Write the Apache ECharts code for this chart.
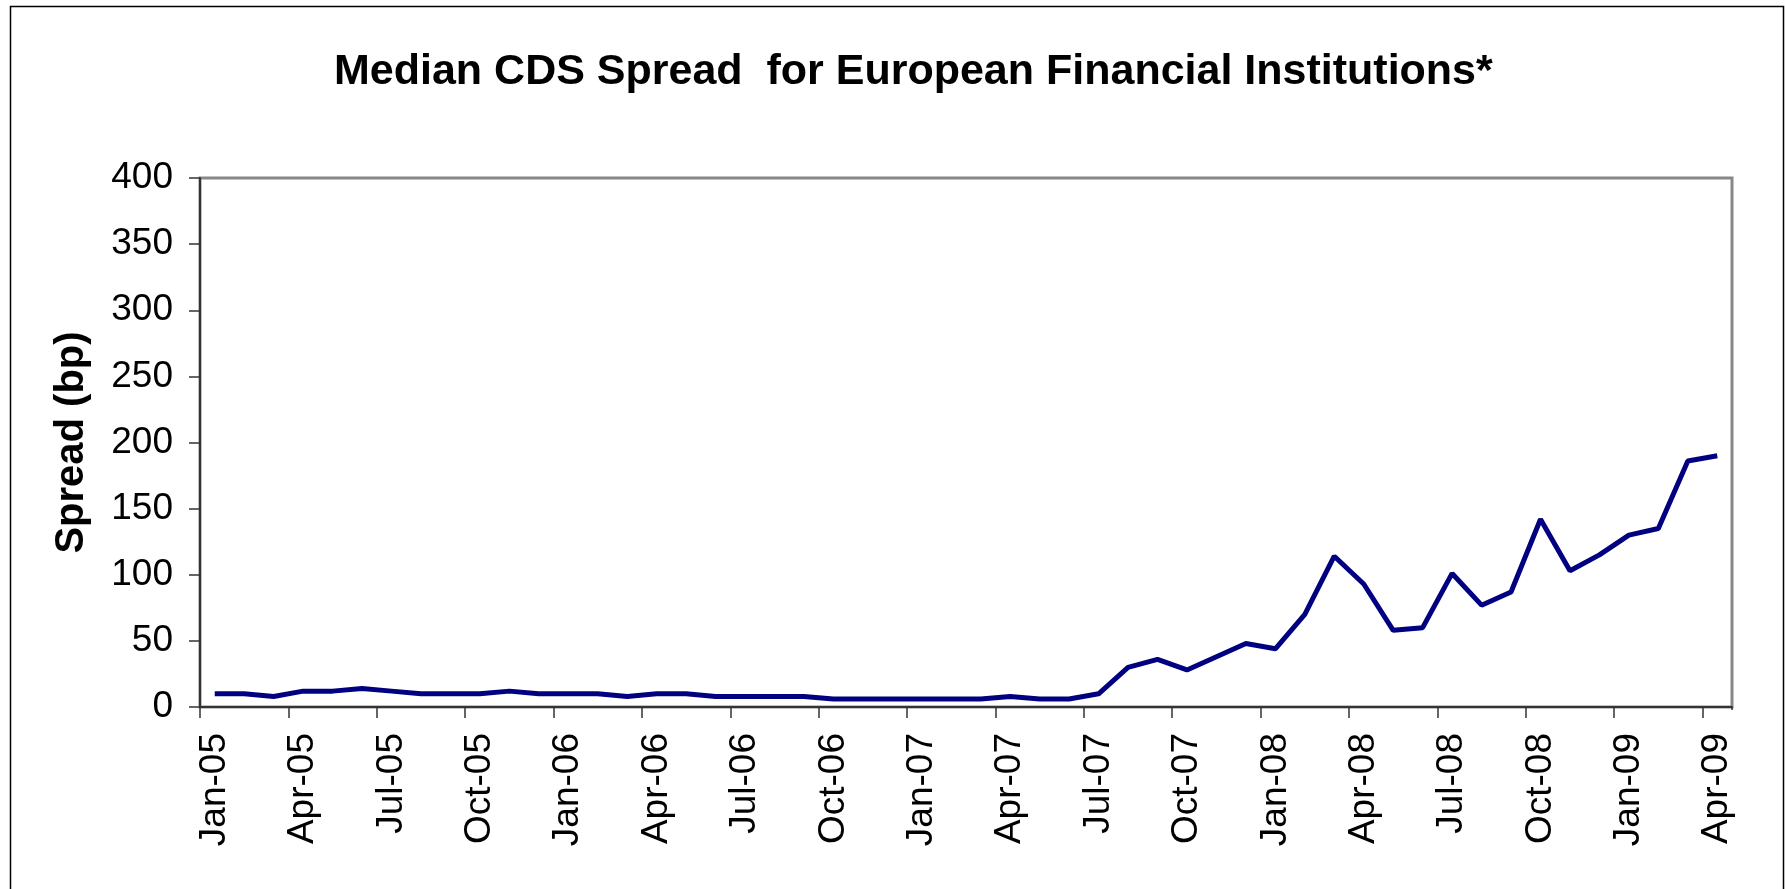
<!DOCTYPE html>
<html>
<head>
<meta charset="utf-8">
<script src="https://cdn.jsdelivr.net/npm/echarts@6/dist/echarts.min.js"></script>
<style>
html,body{margin:0;padding:0;background:#fff;}
#chart{width:1785px;height:889px;}
</style>
</head>
<body>
<div id="chart"></div>
<script>
var titleText = 'Median CDS Spread  for European Financial Institutions*';
var yAxisTitle = 'Spread (bp)';
var categories = [
  'Jan-05','Feb-05','Mar-05','Apr-05','May-05','Jun-05','Jul-05','Aug-05','Sep-05','Oct-05','Nov-05','Dec-05',
  'Jan-06','Feb-06','Mar-06','Apr-06','May-06','Jun-06','Jul-06','Aug-06','Sep-06','Oct-06','Nov-06','Dec-06',
  'Jan-07','Feb-07','Mar-07','Apr-07','May-07','Jun-07','Jul-07','Aug-07','Sep-07','Oct-07','Nov-07','Dec-07',
  'Jan-08','Feb-08','Mar-08','Apr-08','May-08','Jun-08','Jul-08','Aug-08','Sep-08','Oct-08','Nov-08','Dec-08',
  'Jan-09','Feb-09','Mar-09','Apr-09'
];
var spread = [
  10,10,8,12,12,14,12,10,10,10,12,10,
  10,10,8,10,10,8,8,8,8,6,6,6,
  6,6,6,8,6,6,10,30,36,28,38,48,
  44,70,114,93,58,60,101,77,87,142,103,115,
  130,135,186,190
];
var yMin = 0, yMax = 400, yStep = 50;

var chart = echarts.init(document.getElementById('chart'), null, {renderer:'canvas'});
var font = '"Liberation Sans", Arial, sans-serif';
chart.setOption({
  animation: false,
  backgroundColor: '#ffffff',
  title: {
    text: titleText,
    left: 329,
    top: 46,
    textStyle: {fontFamily: font, fontSize: 43, fontWeight: 'bold', color: '#000'}
  },
  graphic: [{
    type: 'rect',
    shape: {x: 10.5, y: 6.5, width: 1773, height: 900},
    style: {fill: 'none', stroke: '#000', lineWidth: 1.5},
    silent: true,
    z: -10
  }, {
    type: 'rect',
    shape: {x: 1727, y: 710, width: 18, height: 16},
    style: {fill: '#ffffff'},
    silent: true,
    zlevel: 5,
    z: 1000
  }],
  grid: {
    left: 200, right: 53, top: 178, bottom: 182,
    show: true, borderColor: '#888', borderWidth: 3, backgroundColor: '#fff'
  },
  xAxis: {
    type: 'category',
    data: categories,
    boundaryGap: true,
    axisLine: {show: true, lineStyle: {color: '#333', width: 2}},
    axisTick: {show: true, interval: 2, length: 11, inside: false, lineStyle: {color: '#333', width: 1.5}},
    axisLabel: {interval: 2, rotate: 90, margin: 26, fontFamily: font, fontSize: 37, color: '#000'},
    splitLine: {show: false}
  },
  yAxis: {
    type: 'value',
    min: yMin, max: yMax, interval: yStep,
    name: yAxisTitle,
    nameLocation: 'middle',
    nameGap: 108,
    nameRotate: 90,
    nameTextStyle: {fontFamily: font, fontSize: 40, fontWeight: 'bold', color: '#000'},
    axisLine: {show: true, lineStyle: {color: '#333', width: 2}},
    axisTick: {show: true, length: 11, inside: false, lineStyle: {color: '#333', width: 1.5}},
    axisLabel: {margin: 27, fontFamily: font, fontSize: 37, color: '#000'},
    splitLine: {show: false}
  },
  series: [{
    type: 'line',
    data: spread,
    showSymbol: false,
    symbol: 'none',
    lineStyle: {color: '#000080', width: 5},
    itemStyle: {color: '#000080'}
  }]
});
</script>
</body>
</html>
